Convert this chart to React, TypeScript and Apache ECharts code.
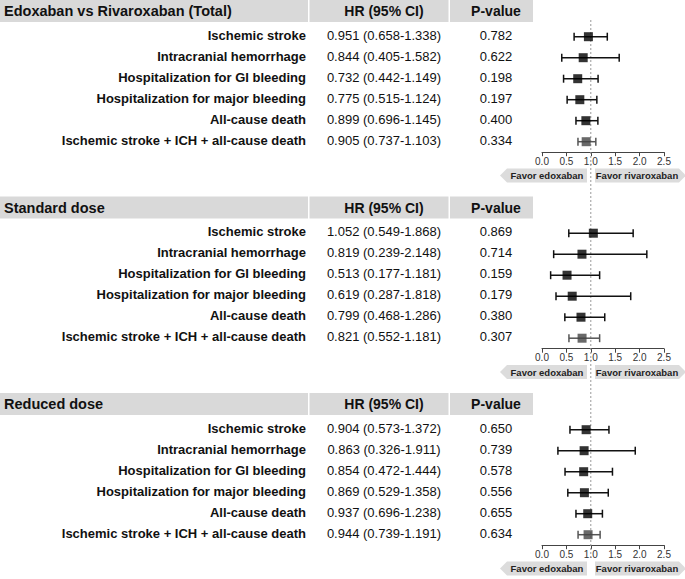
import React, { useEffect, useRef } from "react";
import * as echarts from "echarts";

const FONT = "'Liberation Sans', Arial, Helvetica, sans-serif";

const panelTitles = ["Edoxaban vs Rivaroxaban (Total)", "Standard dose", "Reduced dose"];
const outcomes = [
  "Ischemic stroke",
  "Intracranial hemorrhage",
  "Hospitalization for GI bleeding",
  "Hospitalization for major bleeding",
  "All-cause death",
  "Ischemic stroke + ICH + all-cause death",
];
const colHeaders = ["HR (95% CI)", "P-value"];
const xTicks = [0, 0.5, 1.0, 1.5, 2.0, 2.5];

const totalHR = [0.951, 0.844, 0.732, 0.775, 0.899, 0.905];
const totalLo = [0.658, 0.405, 0.442, 0.515, 0.696, 0.737];
const totalHi = [1.338, 1.582, 1.149, 1.124, 1.145, 1.103];
const totalP = ["0.782", "0.622", "0.198", "0.197", "0.400", "0.334"];

const standardHR = [1.052, 0.819, 0.513, 0.619, 0.799, 0.821];
const standardLo = [0.549, 0.239, 0.177, 0.287, 0.468, 0.552];
const standardHi = [1.868, 2.148, 1.181, 1.818, 1.286, 1.181];
const standardP = ["0.869", "0.714", "0.159", "0.179", "0.380", "0.307"];

const reducedHR = [0.904, 0.863, 0.854, 0.869, 0.937, 0.944];
const reducedLo = [0.573, 0.326, 0.472, 0.529, 0.696, 0.739];
const reducedHi = [1.372, 1.911, 1.444, 1.358, 1.238, 1.191];
const reducedP = ["0.650", "0.739", "0.578", "0.556", "0.655", "0.634"];

const favorLabels = ["Favor edoxaban", "Favor rivaroxaban"];

const panels = [
  { hr: totalHR, lo: totalLo, hi: totalHi, p: totalP },
  { hr: standardHR, lo: standardLo, hi: standardHi, p: standardP },
  { hr: reducedHR, lo: reducedLo, hi: reducedHi, p: reducedP },
];

const fmt = (v: number) => v.toFixed(3);

export default function App() {
  const ref = useRef<HTMLDivElement>(null);

  useEffect(() => {
    document.body.style.margin = "0";
    if (!ref.current) return;
    const chart = echarts.init(ref.current, undefined, { renderer: "svg" });

    const offsets = [0, 196.5, 393];
    const gridLeft = 542;
    const gridWidth = 122;
    const rowH = 21;
    const gridTopRel = 26.2;
    const labelRight = 306;
    const hrCenter = 384;
    const pCenter = 496;
    const refX = gridLeft + (gridWidth * 1.0) / 2.5;

    const grids: any[] = [];
    const xAxes: any[] = [];
    const yAxes: any[] = [];
    const series: any[] = [];
    const graphics: any[] = [];

    panels.forEach((pd, pi) => {
      const o = offsets[pi];
      grids.push({ left: gridLeft, width: gridWidth, top: o + gridTopRel, height: rowH * 6 });
      xAxes.push({
        gridIndex: pi,
        type: "value",
        min: 0,
        max: 2.5,
        interval: 0.5,
        splitLine: { show: false },
        axisLine: { show: true, onZero: false, lineStyle: { color: "#444", width: 1 } },
        axisTick: { show: true, length: 4, lineStyle: { color: "#444" } },
        axisLabel: {
          margin: 4,
          fontSize: 10,
          color: "#333",
          fontFamily: FONT,
          formatter: (v: number) => (xTicks.includes(v) ? v.toFixed(1) : ""),
        },
      });
      yAxes.push({
        gridIndex: pi,
        type: "category",
        inverse: true,
        data: outcomes,
        show: false,
      });

      const last = outcomes.length - 1;

      series.push({
        type: "custom",
        xAxisIndex: pi,
        yAxisIndex: pi,
        clip: false,
        silent: true,
        encode: { x: [0, 1], y: 2 },
        data: pd.hr.map((_, i) => [pd.lo[i], pd.hi[i], i, i === last ? 1 : 0]),
        renderItem: (params: any, api: any) => {
          const a = api.coord([api.value(0), api.value(2)]);
          const b = api.coord([api.value(1), api.value(2)]);
          const y = a[1];
          const col = api.value(3) ? "#555" : "#111";
          const st = { stroke: col, lineWidth: 1.5 };
          return {
            type: "group",
            children: [
              { type: "line", shape: { x1: a[0], y1: y, x2: b[0], y2: y }, style: st },
              { type: "line", shape: { x1: a[0], y1: y - 4, x2: a[0], y2: y + 4 }, style: st },
              { type: "line", shape: { x1: b[0], y1: y - 4, x2: b[0], y2: y + 4 }, style: st },
            ],
          };
        },
      });

      series.push({
        type: "scatter",
        xAxisIndex: pi,
        yAxisIndex: pi,
        symbol: "rect",
        symbolSize: 9,
        silent: true,
        z: 5,
        data: pd.hr.map((v, i) => ({
          value: [v, i],
          itemStyle: { color: i === last ? "#444" : "#000" },
        })),
      });

      series.push({
        type: "custom",
        xAxisIndex: pi,
        yAxisIndex: pi,
        clip: false,
        silent: true,
        encode: { x: 0, y: 1 },
        data: outcomes.map((_, i) => [0, i]),
        renderItem: (params: any, api: any) => {
          const idx = api.value(1);
          const y = api.coord([0, idx])[1] - 1.5;
          return {
            type: "group",
            children: [
              {
                type: "text",
                style: {
                  x: labelRight, y, text: outcomes[idx],
                  font: `bold 13px ${FONT}`, fill: "#111", align: "right", verticalAlign: "middle",
                },
              },
              {
                type: "text",
                style: {
                  x: hrCenter, y,
                  text: `${fmt(pd.hr[idx])} (${fmt(pd.lo[idx])}-${fmt(pd.hi[idx])})`,
                  font: `13px ${FONT}`, fill: "#111", align: "center", verticalAlign: "middle",
                },
              },
              {
                type: "text",
                style: {
                  x: pCenter, y, text: pd.p[idx],
                  font: `13px ${FONT}`, fill: "#111", align: "center", verticalAlign: "middle",
                },
              },
            ],
          };
        },
      });

      const hy = o;
      const hh = 22;
      graphics.push(
        { type: "rect", shape: { x: 0, y: hy, width: 308, height: hh }, style: { fill: "#d9d9d9" } },
        { type: "rect", shape: { x: 309.5, y: hy, width: 139, height: hh }, style: { fill: "#d9d9d9" } },
        { type: "rect", shape: { x: 450, y: hy, width: 83, height: hh }, style: { fill: "#d9d9d9" } },
        {
          type: "text",
          style: {
            x: 4, y: hy + hh / 2, text: panelTitles[pi], font: `bold 14.5px ${FONT}`,
            fill: "#111", align: "left", verticalAlign: "middle",
          },
        },
        {
          type: "text",
          style: {
            x: hrCenter, y: hy + hh / 2, text: colHeaders[0], font: `bold 14px ${FONT}`,
            fill: "#111", align: "center", verticalAlign: "middle",
          },
        },
        {
          type: "text",
          style: {
            x: pCenter, y: hy + hh / 2, text: colHeaders[1], font: `bold 14px ${FONT}`,
            fill: "#111", align: "center", verticalAlign: "middle",
          },
        }
      );

      const c = o + 175.5;
      const h2 = 7;
      graphics.push(
        {
          type: "polygon",
          shape: { points: [[500, c], [507, c - h2], [587, c - h2], [587, c + h2], [507, c + h2]] },
          style: { fill: "#dcdcdc" },
        },
        {
          type: "polygon",
          shape: { points: [[595, c - h2], [679, c - h2], [686, c], [679, c + h2], [595, c + h2]] },
          style: { fill: "#dcdcdc" },
        },
        {
          type: "text",
          style: {
            x: 547, y: c, text: favorLabels[0], font: `bold 9.5px ${FONT}`,
            fill: "#222", align: "center", verticalAlign: "middle",
          },
        },
        {
          type: "text",
          style: {
            x: 637, y: c, text: favorLabels[1], font: `bold 9.5px ${FONT}`,
            fill: "#222", align: "center", verticalAlign: "middle",
          },
        }
      );
    });

    graphics.push({
      type: "line",
      z: 1,
      shape: { x1: refX, y1: 20, x2: refX, y2: 557 },
      style: { stroke: "#999", lineWidth: 1, lineDash: [2, 2] },
    });

    chart.setOption({
      animation: false,
      backgroundColor: "#fff",
      grid: grids,
      xAxis: xAxes,
      yAxis: yAxes,
      series,
      graphic: graphics,
    });

    return () => chart.dispose();
  }, []);

  return <div ref={ref} style={{ width: 685, height: 579 }} />;
}
